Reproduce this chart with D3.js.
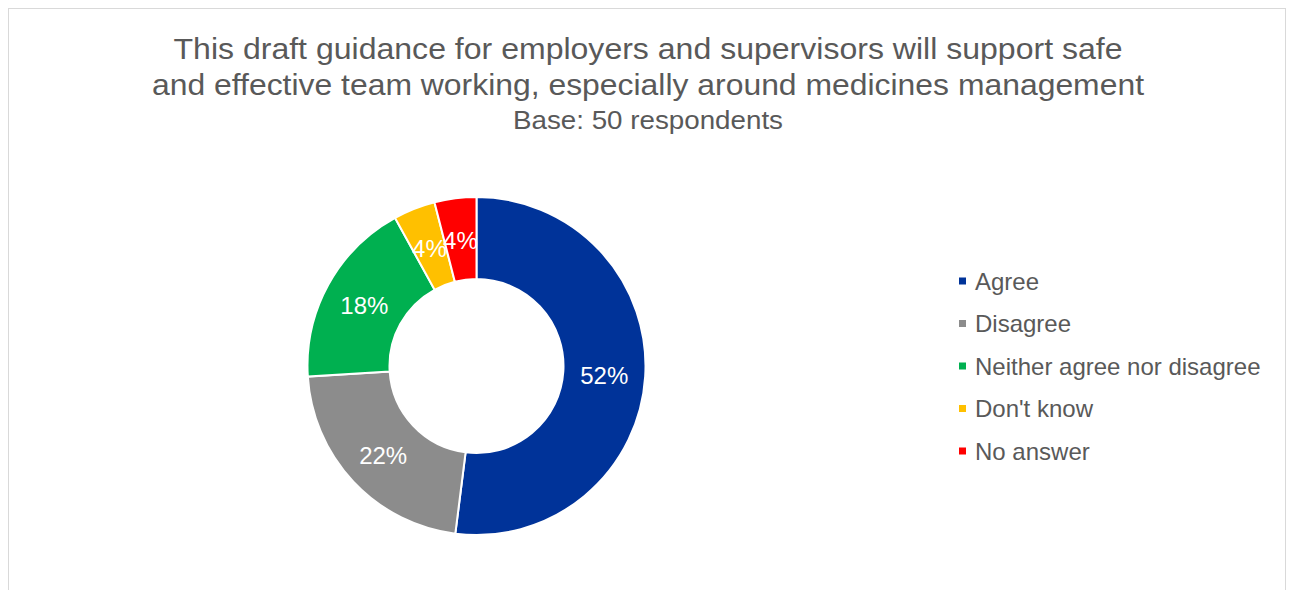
<!DOCTYPE html>
<html>
<head>
<meta charset="utf-8">
<script src="https://cdn.jsdelivr.net/npm/d3@7"></script>
<style>
  html, body { margin: 0; padding: 0; background: #fff; }
  svg { display: block; font-family: "Liberation Sans", Arial, sans-serif; }
</style>
</head>
<body>
<svg id="chart" width="1290" height="590"></svg>
<script>
// Survey responses (percent of 50 respondents)
const categories = ["Agree", "Disagree", "Neither agree nor disagree", "Don't know", "No answer"];
const values = [52, 22, 18, 4, 4];
const colors = ["#003399", "#8c8c8c", "#00b050", "#ffc000", "#ff0000"];
const titleLines = [
  "This draft guidance for employers and supervisors will support safe",
  "and effective team working, especially around medicines management"
];
const subtitle = "Base: 50 respondents";

// text widths of the wide-set heading lines
const titleWidths = [949, 992];
const subtitleWidth = 270;

const svg = d3.select("#chart");

// chart frame
svg.append("rect")
  .attr("x", 8.5).attr("y", 8.5)
  .attr("width", 1277).attr("height", 600)
  .attr("fill", "#fff")
  .attr("stroke", "#d9d9d9")
  .attr("stroke-width", 1);

// title
titleLines.forEach((t, i) => {
  svg.append("text")
    .attr("x", 648).attr("y", 58.5 + i * 36.5)
    .attr("text-anchor", "middle")
    .attr("fill", "#595959")
    .attr("font-size", 30)
    .attr("textLength", titleWidths[i])
    .attr("lengthAdjust", "spacingAndGlyphs")
    .text(t);
});
svg.append("text")
  .attr("x", 648).attr("y", 128.5)
  .attr("text-anchor", "middle")
  .attr("fill", "#595959")
  .attr("font-size", 25)
  .attr("textLength", subtitleWidth)
  .attr("lengthAdjust", "spacingAndGlyphs")
  .text(subtitle);

// donut
const cx = 476.5, cy = 366, outerR = 169, innerR = 87;
const data = categories.map((c, i) => ({ category: c, value: values[i], color: colors[i] }));

const pie = d3.pie().value(d => d.value).sort(null);
const arc = d3.arc().innerRadius(innerR).outerRadius(outerR);
const labelArc = d3.arc().innerRadius((innerR + outerR) / 2).outerRadius((innerR + outerR) / 2);

const g = svg.append("g").attr("transform", `translate(${cx},${cy})`);
const arcs = pie(data);

g.selectAll("path.slice")
  .data(arcs)
  .join("path")
  .attr("class", "slice")
  .attr("d", arc)
  .attr("fill", d => d.data.color)
  .attr("stroke", "#fff")
  .attr("stroke-width", 2);

g.selectAll("text.label")
  .data(arcs)
  .join("text")
  .attr("class", "label")
  .attr("transform", d => `translate(${labelArc.centroid(d)})`)
  .attr("text-anchor", "middle")
  .attr("dy", "0.42em")
  .attr("fill", "#fff")
  .attr("font-size", 24)
  .text(d => d3.format(".0f")(d.data.value) + "%");

// legend
const legend = svg.append("g").attr("transform", "translate(959,281)");
const items = legend.selectAll("g.item")
  .data(data)
  .join("g")
  .attr("class", "item")
  .attr("transform", (d, i) => `translate(0,${i * 42.5})`);
items.append("rect")
  .attr("x", 0).attr("y", -3.5)
  .attr("width", 7).attr("height", 7)
  .attr("fill", d => d.color);
items.append("text")
  .attr("x", 16).attr("y", 0)
  .attr("dy", "0.36em")
  .attr("fill", "#595959")
  .attr("font-size", 24)
  .text(d => d.category);
</script>
</body>
</html>
